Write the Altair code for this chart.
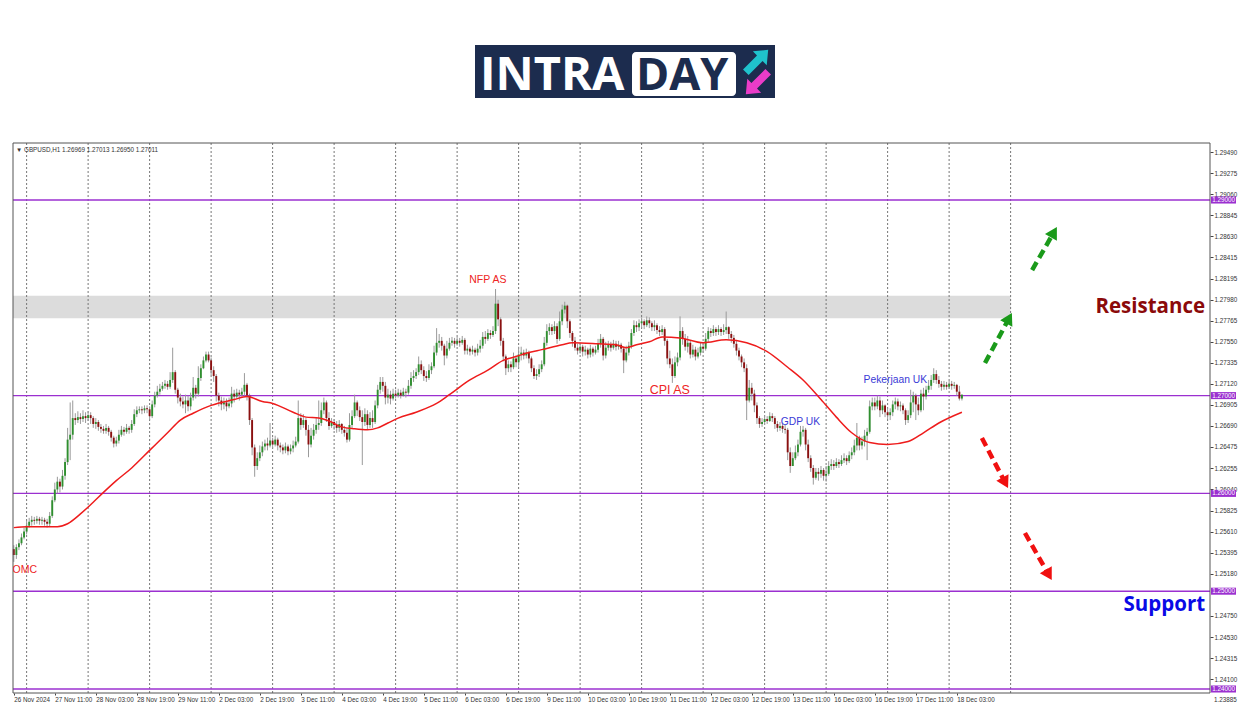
import altair as alt
import pandas as pd

# ---------------- data (prices in 1/10000 units) ----------------
OPEN0 = 12543
CLOSE = [
12537,12545,12549,12555,12561,12567,12571,12573,12572,12574,
12572,12573,12571,12569,12577,12593,12604,12612,12607,12618,
12632,12655,12660,12677,12675,12678,12676,12679,12677,12680,
12677,12671,12673,12668,12666,12664,12667,12663,12657,12651,
12654,12660,12665,12663,12667,12665,12671,12681,12685,12686,
12685,12687,12686,12679,12691,12700,12704,12707,12710,12712,
12709,12716,12724,12706,12698,12694,12691,12695,12689,12698,
12708,12702,12718,12728,12736,12742,12736,12726,12720,12700,
12695,12691,12693,12689,12692,12702,12699,12703,12701,12704,
12711,12700,12675,12647,12628,12636,12642,12648,12651,12649,
12654,12650,12655,12649,12647,12644,12648,12643,12646,12649,
12653,12677,12670,12675,12665,12650,12659,12665,12670,12672,
12685,12693,12677,12669,12673,12670,12667,12671,12665,12662,
12655,12670,12679,12693,12685,12678,12673,12681,12670,12677,
12673,12690,12706,12714,12710,12698,12701,12697,12702,12700,
12703,12700,12704,12703,12710,12718,12720,12724,12732,12726,
12720,12718,12726,12730,12744,12754,12756,12751,12741,12748,
12754,12756,12753,12756,12754,12757,12746,12748,12745,12747,
12744,12748,12751,12760,12758,12764,12762,12766,12794,12778,
12756,12740,12728,12732,12729,12738,12734,12742,12744,12741,
12744,12738,12728,12720,12722,12727,12732,12754,12766,12770,
12766,12771,12758,12776,12788,12792,12776,12764,12756,12749,
12746,12750,12745,12747,12742,12748,12744,12747,12753,12758,
12741,12749,12752,12749,12753,12750,12752,12748,12736,12744,
12751,12764,12772,12770,12774,12776,12772,12777,12774,12770,
12772,12767,12765,12768,12756,12738,12732,12720,12734,12739,
12766,12758,12750,12754,12742,12747,12740,12744,12750,12748,
12758,12766,12764,12768,12765,12768,12765,12767,12770,12763,
12759,12753,12746,12740,12734,12728,12695,12708,12702,12690,
12677,12671,12673,12676,12674,12679,12677,12671,12667,12669,
12666,12665,12642,12628,12636,12642,12650,12663,12665,12650,
12636,12626,12616,12622,12620,12624,12618,12620,12628,12630,
12628,12632,12630,12634,12636,12633,12639,12642,12649,12657,
12649,12653,12659,12663,12689,12693,12689,12695,12685,12690,
12683,12680,12683,12691,12694,12689,12690,12685,12675,12680,
12693,12700,12691,12685,12702,12699,12706,12710,12716,12722,
12716,12712,12709,12711,12709,12712,12710,12711,12704,12697,
12701]
HIGH = [
12547,12548,12553,12559,12565,12572,12575,12577,12576,12577,
12576,12576,12575,12574,12581,12597,12611,12617,12615,12624,
12636,12667,12693,12695,12682,12684,12682,12685,12683,12684,
12683,12679,12677,12675,12671,12669,12671,12669,12665,12659,
12658,12665,12669,12668,12671,12669,12675,12686,12689,12689,
12689,12690,12690,12689,12695,12704,12710,12712,12714,12716,
12715,12724,12749,12726,12708,12702,12699,12701,12700,12703,
12719,12711,12730,12732,12740,12745,12745,12739,12730,12722,
12703,12699,12698,12697,12698,12709,12706,12707,12706,12708,
12723,12713,12702,12677,12650,12642,12649,12653,12655,12657,
12672,12657,12659,12657,12652,12650,12652,12650,12650,12654,
12658,12695,12682,12681,12677,12670,12667,12671,12677,12695,
12693,12698,12695,12683,12677,12676,12674,12675,12672,12669,
12667,12682,12685,12701,12695,12689,12685,12687,12685,12683,
12685,12695,12711,12719,12719,12714,12707,12705,12707,12706,
12707,12706,12708,12707,12716,12724,12726,12728,12740,12736,
12730,12725,12732,12734,12751,12769,12763,12760,12753,12756,
12759,12760,12759,12760,12759,12761,12759,12752,12750,12751,
12749,12753,12757,12765,12766,12768,12767,12771,12809,12798,
12780,12759,12742,12736,12735,12744,12741,12750,12750,12747,
12748,12746,12740,12731,12727,12732,12736,12760,12773,12774,
12773,12776,12774,12786,12793,12796,12793,12778,12766,12760,
12753,12754,12752,12751,12749,12752,12750,12751,12758,12763,
12760,12755,12756,12755,12757,12756,12756,12754,12750,12751,
12755,12768,12777,12776,12778,12780,12778,12781,12780,12776,
12777,12774,12771,12772,12770,12758,12746,12738,12740,12744,
12781,12770,12763,12761,12756,12752,12750,12749,12754,12754,
12764,12770,12769,12772,12770,12772,12770,12773,12786,12771,
12766,12762,12756,12749,12742,12738,12732,12716,12713,12706,
12693,12679,12677,12680,12679,12683,12682,12679,12674,12673,
12671,12670,12667,12647,12642,12649,12655,12669,12669,12667,
12655,12639,12629,12626,12626,12628,12626,12628,12633,12635,
12634,12636,12635,12639,12641,12639,12643,12647,12655,12672,
12659,12658,12665,12667,12695,12698,12698,12700,12699,12695,
12691,12687,12687,12695,12698,12697,12694,12692,12687,12685,
12706,12704,12702,12698,12706,12708,12710,12716,12721,12728,
12726,12720,12715,12715,12714,12715,12715,12714,12712,12710,
12701]
LOW = [
12530,12533,12542,12547,12553,12558,12565,12567,12568,12569,
12568,12568,12567,12565,12566,12575,12591,12600,12601,12604,
12614,12629,12634,12655,12670,12672,12671,12673,12672,12674,
12671,12667,12666,12664,12662,12661,12661,12659,12653,12647,
12648,12651,12658,12659,12661,12661,12662,12669,12678,12682,
12681,12682,12682,12675,12677,12688,12698,12701,12705,12707,
12706,12707,12713,12702,12692,12689,12687,12682,12684,12685,
12695,12697,12699,12715,12727,12734,12734,12721,12714,12694,
12689,12685,12686,12684,12687,12688,12693,12697,12695,12699,
12700,12695,12670,12639,12617,12624,12633,12638,12644,12644,
12647,12646,12648,12644,12642,12640,12641,12639,12640,12642,
12647,12651,12665,12667,12659,12637,12647,12655,12661,12665,
12669,12681,12673,12665,12667,12665,12662,12663,12661,12658,
12652,12653,12667,12677,12679,12674,12629,12669,12665,12667,
12667,12671,12687,12702,12704,12691,12692,12691,12695,12697,
12698,12697,12699,12698,12701,12707,12714,12717,12721,12722,
12715,12714,12716,12722,12728,12741,12749,12746,12731,12738,
12746,12751,12749,12751,12750,12752,12742,12742,12741,12742,
12740,12741,12744,12748,12753,12756,12758,12760,12763,12771,
12751,12735,12721,12724,12724,12727,12729,12728,12736,12737,
12738,12733,12724,12717,12716,12719,12724,12730,12751,12762,
12762,12763,12753,12756,12772,12784,12769,12759,12750,12746,
12742,12743,12740,12741,12738,12739,12740,12742,12744,12749,
12736,12738,12746,12745,12747,12746,12747,12744,12723,12734,
12741,12748,12761,12765,12766,12769,12768,12770,12769,12766,
12766,12763,12761,12762,12751,12732,12728,12713,12718,12730,
12736,12752,12746,12744,12738,12739,12736,12738,12741,12744,
12746,12755,12760,12761,12761,12762,12761,12762,12763,12758,
12754,12749,12741,12736,12729,12724,12675,12693,12695,12683,
12671,12667,12668,12670,12671,12673,12673,12666,12663,12664,
12662,12661,12634,12621,12629,12634,12638,12648,12658,12644,
12632,12622,12609,12614,12613,12616,12613,12612,12618,12624,
12624,12626,12626,12628,12631,12629,12631,12635,12639,12644,
12644,12645,12648,12634,12661,12685,12685,12686,12678,12681,
12678,12676,12675,12679,12686,12685,12684,12681,12670,12672,
12677,12683,12675,12680,12683,12685,12696,12703,12706,12713,
12712,12708,12705,12706,12706,12707,12706,12707,12700,12695,
12695]

MA_IDX = [0,5,17,21,26,31,35,40,46,53,60,65,70,77,86,91,97,101,109,114,
          119,123,128,133,138,142,146,150,157,165,170,178,185,191,196,201,206,214,218,228,
          235,239,243,248,253,260,269,278,286,294,302,308,315,321,327,334,341,349,355,361,370]
MA_VAL = [12565,12566,12566,12569,12579,12591,12601,12613,12626,12644,
          12662,12675,12682,12690,12696,12699,12694,12692,12683,12678,
          12677,12674,12668,12666,12665,12667,12672,12677,12683,12692,
          12701,12716,12726,12736,12740,12744,12747,12752,12754,12753,
          12752,12749,12752,12755,12760,12759,12754,12757,12754,12745,
          12729,12716,12696,12678,12662,12652,12650,12653,12662,12672,12683]

X_LABELS = ["26 Nov 2024", "27 Nov 11:00", "28 Nov 03:00", "28 Nov 19:00", "29 Nov 11:00",
            "2 Dec 03:00", "2 Dec 19:00", "3 Dec 11:00", "4 Dec 03:00", "4 Dec 19:00",
            "5 Dec 11:00", "6 Dec 03:00", "6 Dec 19:00", "9 Dec 11:00", "10 Dec 03:00",
            "10 Dec 19:00", "11 Dec 11:00", "12 Dec 03:00", "12 Dec 19:00", "13 Dec 11:00",
            "16 Dec 03:00", "16 Dec 19:00", "17 Dec 11:00", "18 Dec 03:00"]
LABEL_STEP = 16
DAY_START_IDX = [5, 29, 53, 77, 101, 125, 149, 173, 197, 221, 245, 269, 293, 317, 341, 365, 389]
Y_TICKS = [1.29490, 1.29275, 1.29060, 1.28845, 1.28630, 1.28415, 1.28195, 1.27980, 1.27765,
           1.27550, 1.27335, 1.27120, 1.26905, 1.26690, 1.26475, 1.26255, 1.26040, 1.25825,
           1.25610, 1.25395, 1.25180, 1.24750, 1.24530, 1.24315, 1.24100]
LAST_TICK = 1.23885
LEVELS = [1.29, 1.27, 1.26, 1.25, 1.24]
ZONE_LO, ZONE_HI = 1.2779, 1.2802
ZONE_END_IDX = 389
HEADER = "\u25BC GBPUSD,H1  1.26969 1.27013 1.26950 1.27011"

# annotations: (bar index, price, text, colour, font size, align)
NOTES = [
    (185, 1.2818, "NFP AS", "#ee2424", 10.5, "center"),
    (256, 1.2706, "CPI AS", "#ee2424", 12.5, "center"),
    (307, 1.2673, "GDP UK", "#3a3ad6", 10.3, "center"),
    (344, 1.2716, "Pekerjaan UK", "#3a3ad6", 10.3, "center"),
]
# arrows: (start idx, start price, head idx, head price, angle, colour)
ARROWS = [
    (379.0, 1.27333, 388.4, 1.27791, 28, "#1a9a1a"),
    (397.4, 1.28284, 405.9, 1.28671, 30, "#1a9a1a"),
    (377.8, 1.26566, 386.9, 1.26109, 152, "#f01010"),
    (394.6, 1.25595, 403.9, 1.25167, 150, "#f01010"),
]

# ---------------- geometry ----------------
W, H = 1197, 550
XMIN, XMAX = -0.312, 466.81
YMIN, YMAX = 1.23959, 1.29583
XS = alt.Scale(domain=[XMIN, XMAX], nice=False, zero=False)
YS = alt.Scale(domain=[YMIN, YMAX], nice=False, zero=False)
FONT = "Liberation Sans"
GREEN, RED, WICK = "#2f8f2f", "#8b1010", "#9a9a9a"
PURPLE = "#9b30d0"
FRAME = "#555555"

n = min(len(CLOSE), len(HIGH), len(LOW))
opens = [OPEN0] + CLOSE[:n - 1]
rows = []
for i in range(n):
    o, c = opens[i], CLOSE[i]
    h, l = max(HIGH[i], o, c), min(LOW[i], o, c)
    b0, b1 = (o, c) if abs(o - c) >= 0.8 else (o - 0.4, o + 0.4)
    rows.append(dict(i=i, open=o / 1e4, close=c / 1e4, high=h / 1e4, low=l / 1e4,
                     b0=b0 / 1e4, b1=b1 / 1e4, up=bool(c >= o)))
df = pd.DataFrame(rows)
ma = pd.DataFrame({"i": MA_IDX, "p": [v / 1e4 for v in MA_VAL]})
one = pd.DataFrame({"a": [0]})

label_arr = "[" + ",".join("'%s'" % s for s in X_LABELS) + "]"
x_axis = alt.Axis(values=[k * LABEL_STEP for k in range(len(X_LABELS))],
                  labelExpr=label_arr + "[round(datum.value/%d)]" % LABEL_STEP,
                  labelAlign="left", labelBaseline="top", labelFont=FONT, labelFontSize=6.3,
                  labelColor="#333", tickSize=2, tickColor="#444", labelPadding=1,
                  domain=False, grid=False, labelOverlap=False, labelFlush=False,
                  title=None, zindex=0)
y_axis = alt.Axis(orient="right", values=Y_TICKS, format=".5f", labelFont=FONT,
                  labelFontSize=6.3, labelColor="#333", tickSize=3, tickColor="#444",
                  labelPadding=1, domain=False, grid=False, labelOverlap=False,
                  labelFlush=False, title=None, zindex=0)


def X(f):
    return alt.X(f, type="quantitative", scale=XS, axis=x_axis)


def Y(f):
    return alt.Y(f, type="quantitative", scale=YS, axis=y_axis)


zone = alt.Chart(pd.DataFrame({"x1": [XMIN], "x2": [ZONE_END_IDX], "y1": [ZONE_LO], "y2": [ZONE_HI]})
                 ).mark_rect(color="#dcdcdc").encode(
    x=X("x1"), x2="x2:Q", y=Y("y1"), y2="y2:Q")

grid = alt.Chart(pd.DataFrame({"i": DAY_START_IDX})).mark_rule(
    color="#777", strokeDash=[2, 2], strokeWidth=1).encode(
    x=X("i"), y=alt.value(0), y2=alt.value(H))

levels = alt.Chart(pd.DataFrame({"p": LEVELS})).mark_rule(
    color=PURPLE, strokeWidth=1.4).encode(y=Y("p"), x=alt.value(0), x2=alt.value(W))

wicks = alt.Chart(df).mark_rule(color=WICK, strokeWidth=1).encode(
    x=X("i"), y=Y("low"), y2="high:Q")

bodies = alt.Chart(df).mark_rule(strokeWidth=1.9).encode(
    x=X("i"), y=Y("b0"), y2="b1:Q",
    color=alt.condition("datum.up", alt.value(GREEN), alt.value(RED)))

ma_line = alt.Chart(ma).mark_line(color="#ee1c1c", strokeWidth=1.5, interpolate="monotone").encode(
    x=X("i"), y=Y("p"))

arr_rows, head_rows = [], []
for k, (si, sp, ei, ep, ang, col) in enumerate(ARROWS):
    arr_rows += [dict(a=k, o=0, i=si, p=sp, col=col), dict(a=k, o=1, i=ei, p=ep, col=col)]
    head_rows.append(dict(i=ei, p=ep, ang=ang, col=col))
arrow_lines = alt.Chart(pd.DataFrame(arr_rows)).mark_line(
    strokeWidth=4.5, strokeDash=[9, 5], strokeCap="butt").encode(
    x=X("i"), y=Y("p"), detail="a:N", order="o:Q", color=alt.Color("col:N", scale=None))
arrow_heads = alt.Chart(pd.DataFrame(head_rows)).mark_point(
    shape="triangle-up", filled=True, size=190, opacity=1).encode(
    x=X("i"), y=Y("p"), angle=alt.Angle("ang:Q", scale=None), color=alt.Color("col:N", scale=None))

# frame
frame = [
    alt.Chart(one).mark_rule(color=FRAME, strokeWidth=1).encode(
        x=alt.value(0), x2=alt.value(W), y=alt.value(0)),
    alt.Chart(one).mark_rule(color=FRAME, strokeWidth=1).encode(
        x=alt.value(0), x2=alt.value(W), y=alt.value(H)),
    alt.Chart(one).mark_rule(color=FRAME, strokeWidth=1).encode(
        x=alt.value(0), y=alt.value(0), y2=alt.value(H)),
    alt.Chart(one).mark_rule(color=FRAME, strokeWidth=1).encode(
        x=alt.value(W), y=alt.value(0), y2=alt.value(H)),
]

layers = [zone, grid, levels, wicks, bodies, ma_line, arrow_lines, arrow_heads] + frame

for (ni, npx, txt, col, fs, al) in NOTES:
    layers.append(alt.Chart(pd.DataFrame({"i": [ni], "p": [npx], "t": [txt]})).mark_text(
        font=FONT, fontSize=fs, color=col, align=al, baseline="middle").encode(
        x=X("i"), y=Y("p"), text="t:N"))

# FOMC label, clipped at the left edge of the chart
layers.append(alt.Chart(pd.DataFrame({"i": [9.05], "p": [1.25217], "t": ["FOMC"]})).mark_text(
    font=FONT, fontSize=10.5, color="#ee2424", align="right", baseline="middle", clip=True).encode(
    x=X("i"), y=Y("p"), text="t:N"))

# Resistance / Support
for (ti, tp, txt, col) in [(464.9, 1.27906, "Resistance", "#8b0a0a"),
                           (464.9, 1.24859, "Support", "#0a0ae6")]:
    layers.append(alt.Chart(pd.DataFrame({"i": [ti], "p": [tp], "t": [txt]})).mark_text(
        font="Open Sans", fontSize=20.5, fontWeight="bold", color=col, align="right",
        baseline="middle").encode(x=X("i"), y=Y("p"), text="t:N"))

# highlighted price labels on the right scale
lv = pd.DataFrame({"p": LEVELS, "t": ["%.5f" % v for v in LEVELS]})
lv["p1"] = lv["p"] + 0.00036
lv["p2"] = lv["p"] - 0.00036
layers.append(alt.Chart(lv).mark_rect(color=PURPLE).encode(
    x=alt.value(W + 1), x2=alt.value(W + 26), y=Y("p1"), y2="p2:Q"))
layers.append(alt.Chart(lv).mark_text(font=FONT, fontSize=6.3, color="white", align="center",
                                      baseline="middle").encode(
    x=alt.value(W + 13.5), y=Y("p"), text="t:N"))
layers.append(alt.Chart(pd.DataFrame({"p": [LAST_TICK], "t": ["%.5f" % LAST_TICK]})).mark_text(
    font=FONT, fontSize=6.3, color="#333", align="left", baseline="middle").encode(
    x=alt.value(W + 4), y=Y("p"), text="t:N"))

# header
layers.append(alt.Chart(one).mark_text(font=FONT, fontSize=6.3, color="#333", align="left",
                                       baseline="middle").encode(
    x=alt.value(3), y=alt.value(7), text=alt.value(HEADER)))

# logo
NAVY = "#1c2c4e"
layers.append(alt.Chart(one).mark_rect(color=NAVY).encode(
    x=alt.value(462), x2=alt.value(762), y=alt.value(-98), y2=alt.value(-45)))
layers.append(alt.Chart(one).mark_rect(color="white", cornerRadius=4).encode(
    x=alt.value(619), x2=alt.value(723), y=alt.value(-91), y2=alt.value(-47)))
layers.append(alt.Chart(one).mark_text(font="Open Sans", fontSize=47, fontWeight="bold",
                                       color="white", align="left", baseline="alphabetic").encode(
    x=alt.value(467), y=alt.value(-53), text=alt.value("INTRA")))
layers.append(alt.Chart(one).mark_text(font="Open Sans", fontSize=45, fontWeight="bold",
                                       color=NAVY, align="left", baseline="alphabetic").encode(
    x=alt.value(623), y=alt.value(-53), text=alt.value("DAY")))
ARROW_PATH = "M0,-1 L0.62,-0.25 L0.25,-0.25 L0.25,1 L-0.25,1 L-0.25,-0.25 L-0.62,-0.25 Z"
layers.append(alt.Chart(one).mark_point(shape=ARROW_PATH, filled=True, size=1000, opacity=1,
                                        color="#1fc2cc").encode(
    x=alt.value(744), y=alt.value(-82), angle=alt.value(45)))
layers.append(alt.Chart(one).mark_point(shape=ARROW_PATH, filled=True, size=1000, opacity=1,
                                        color="#e93cc8").encode(
    x=alt.value(744), y=alt.value(-60), angle=alt.value(225)))

chart = alt.layer(*layers).properties(
    width=W, height=H,
    autosize=alt.AutoSizeParams(type="none"),
    padding={"left": 5, "top": 135, "right": 30, "bottom": 11},
    background="white",
).configure_view(stroke=None)

chart.save("out.html", embed_options={"renderer": "svg", "actions": False})
